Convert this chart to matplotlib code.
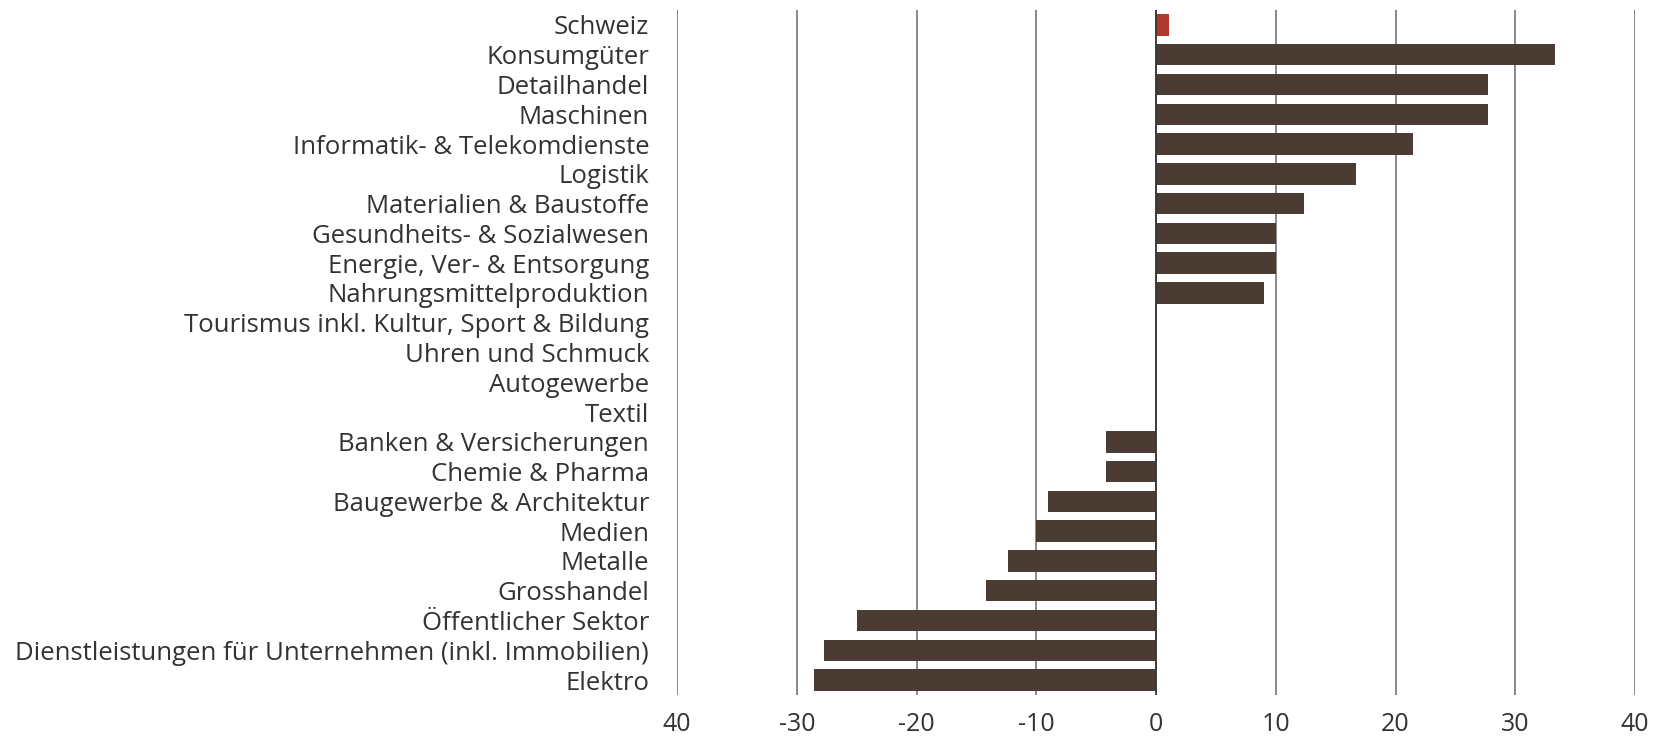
import numpy as np
import matplotlib
matplotlib.use('Agg')
from matplotlib import pyplot as plt

categories = ['Schweiz', 'Konsumgüter', 'Detailhandel', 'Maschinen',
              'Informatik- & Telekomdienste', 'Logistik',
              'Materialien & Baustoffe', 'Gesundheits- & Sozialwesen',
              'Energie, Ver- & Entsorgung', 'Nahrungsmittelproduktion',
              'Tourismus inkl. Kultur, Sport & Bildung', 'Uhren und Schmuck',
              'Autogewerbe', 'Textil', 'Banken & Versicherungen',
              'Chemie & Pharma', 'Baugewerbe & Architektur', 'Medien',
              'Metalle', 'Grosshandel', 'Öffentlicher Sektor',
              'Dienstleistungen für Unternehmen (inkl. Immobilien)', 'Elektro']
values = [1.1, 33.3, 27.7, 27.7, 21.5, 16.7, 12.4, 10.0, 10.0, 9.0,
          0.0, 0.0, 0.0, 0.0, -4.2, -4.2, -9.0, -10.0, -12.4, -14.2,
          -25.0, -27.7, -28.6]
xticks = [-40, -30, -20, -10, 0, 10, 20, 30, 40]
xticklabels = ['40', '-30', '-20', '-10', '0', '10', '20', '30', '40']

plt.rcParams['font.family'] = ['Open Sans', 'DejaVu Sans']

fig = plt.figure(figsize=(16.54, 7.36), dpi=100)
ax = fig.add_axes([677 / 1654, 41 / 736, 958 / 1654, 685 / 736])

y = np.arange(len(categories))
colors = ['#b0382c'] + ['#4a3c33'] * (len(categories) - 1)
ax.barh(y, values, height=0.72, color=colors, zorder=3)

ax.set_xlim(-40, 40)
ax.set_ylim(len(categories) - 0.5, -0.5)
ax.set_xticks(xticks)
ax.set_xticklabels(xticklabels, fontsize=18, color='#333333')
ax.set_yticks(y)
ax.set_yticklabels(categories, fontsize=18.5, color='#333333')
ax.tick_params(axis='y', length=0, pad=20)
ax.tick_params(axis='x', length=0, pad=12)

for xv in xticks:
    ax.axvline(xv, color='#808080', lw=1.3, zorder=1)
ax.axvline(0, color='#3a3a3a', lw=1.3, zorder=4)

for s in ax.spines.values():
    s.set_visible(False)

fig.savefig('out.png', dpi=100, facecolor='white')
